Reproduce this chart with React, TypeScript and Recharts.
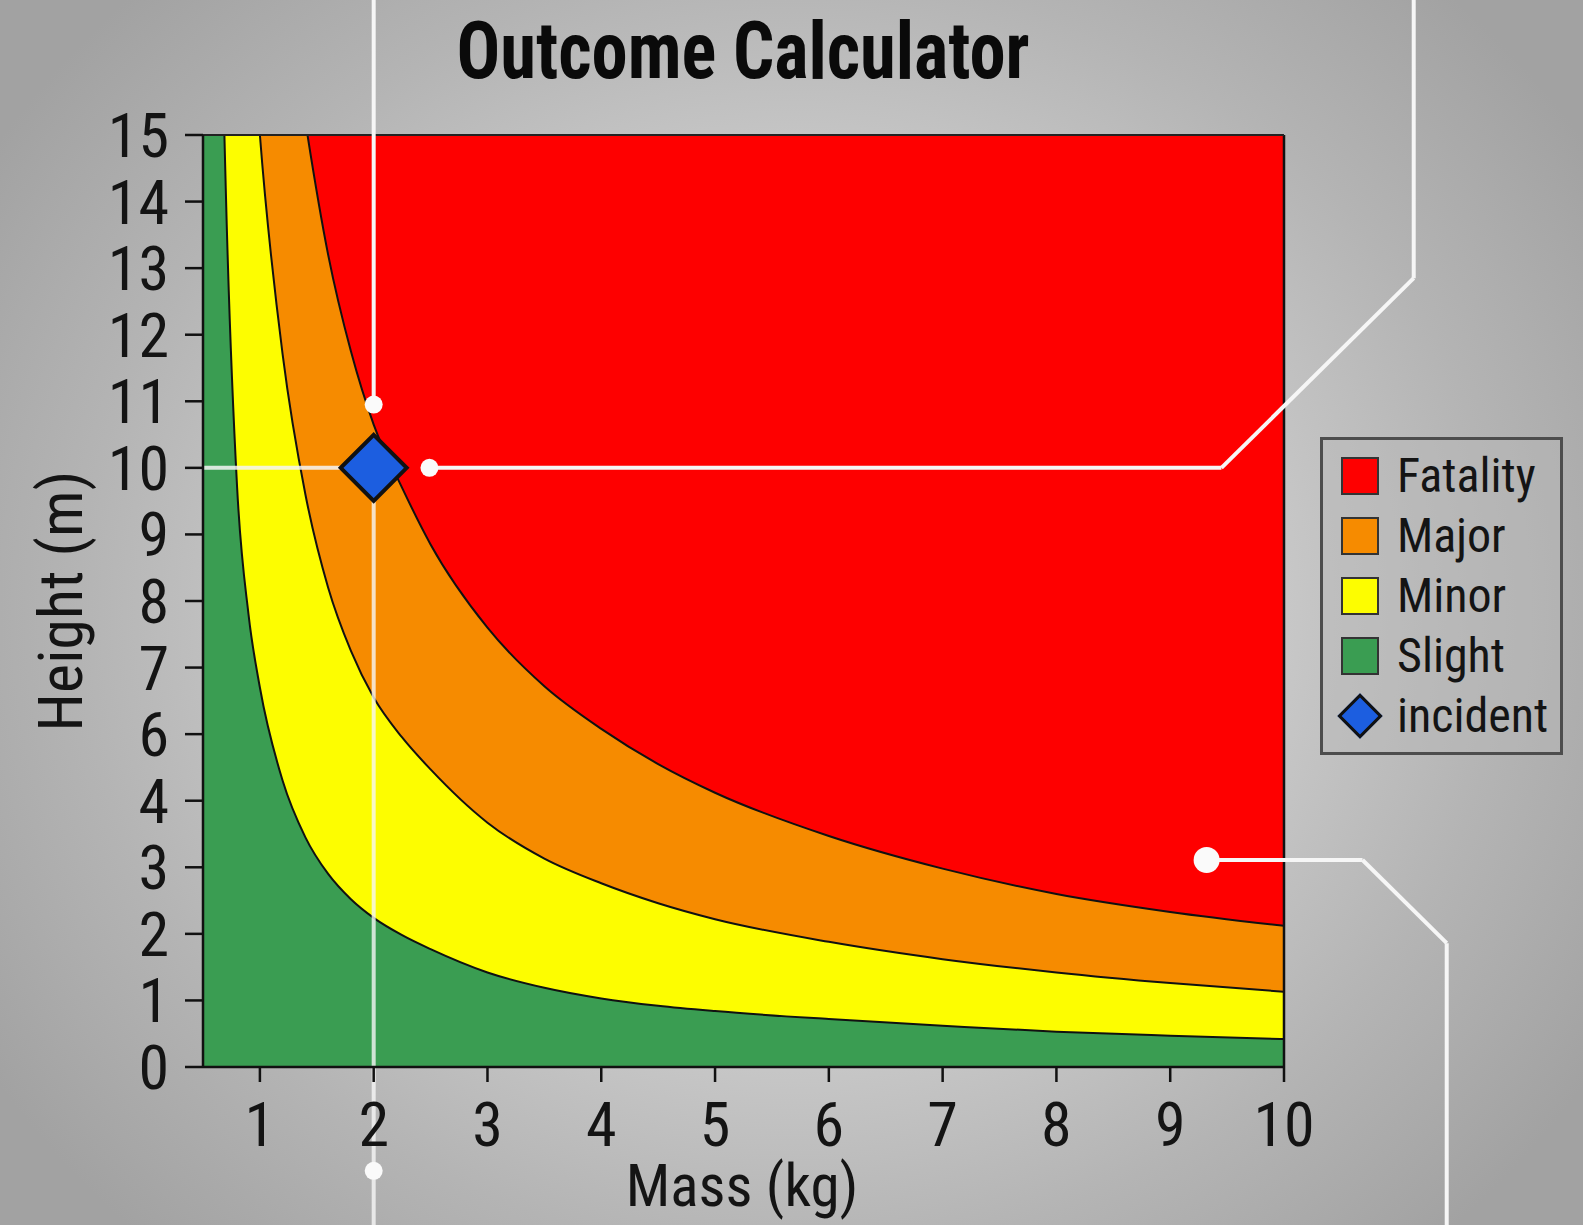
import React from 'react';
import {
  ComposedChart,
  Area,
  Scatter,
  XAxis,
  YAxis,
  CartesianGrid,
  ReferenceLine,
  ReferenceDot,
  Legend,
} from 'recharts';

// ---------- data (heights in axis-position units; the axis labels skip "5") ----------
const massKg = [0.5, 0.6, 0.7, 0.8, 0.9, 1.0, 1.2, 1.4, 1.6, 1.8, 2.0, 2.25, 2.5, 3.0, 3.5, 4.0, 4.5, 5.0, 6, 7, 8, 9, 10];
const fatalityLimit = [40, 33, 28.5, 25, 22, 20, 16.6, 14.2, 12.2, 10.75, 9.65, 8.7, 7.85, 6.6, 5.72, 5.08, 4.55, 4.12, 3.47, 2.98, 2.6, 2.33, 2.12];
const majorLimit = [40, 32, 25, 20, 16.5, 14, 10.7, 8.6, 7.2, 6.25, 5.55, 4.95, 4.47, 3.67, 3.13, 2.76, 2.46, 2.22, 1.88, 1.62, 1.42, 1.26, 1.13];
const minorLimit = [40, 22, 13.2, 8.7, 6.8, 5.7, 4.3, 3.45, 2.9, 2.52, 2.24, 1.98, 1.77, 1.42, 1.19, 1.03, 0.92, 0.84, 0.72, 0.62, 0.53, 0.47, 0.42];

const incident = [{ mass: 2, height: 9 }];

const xTicks = [1, 2, 3, 4, 5, 6, 7, 8, 9, 10];
const yTickPositions = [0, 1, 2, 3, 4, 5, 6, 7, 8, 9, 10, 11, 12, 13, 14];
const yTickLabels = ['0', '1', '2', '3', '4', '6', '7', '8', '9', '10', '11', '12', '13', '14', '15'];

const legendNames = ['Fatality', 'Major', 'Minor', 'Slight', 'incident'];
const legendColors = ['#fe0000', '#f68b00', '#fdfd00', '#3a9d52', '#1c5ee0'];

// callout decoration (data units)
const calloutSegments: { a: [number, number]; b: [number, number]; o: number }[] = [
  { a: [2, 16.3], b: [2, 10], o: 1 },
  { a: [2, 8.5], b: [2, -2.6], o: 0.8 },
  { a: [0.5, 9], b: [1.72, 9], o: 0.85 },
  { a: [2.49, 9], b: [9.45, 9], o: 1 },
  { a: [9.45, 9], b: [11.14, 11.85], o: 1 },
  { a: [11.14, 11.85], b: [11.14, 16.3], o: 1 },
  { a: [9.32, 3.11], b: [10.69, 3.11], o: 1 },
  { a: [10.69, 3.11], b: [11.43, 1.86], o: 1 },
  { a: [11.43, 1.86], b: [11.43, -2.6], o: 1 },
];
const calloutDots: { x: number; y: number; r: number }[] = [
  { x: 2, y: 9.95, r: 9 },
  { x: 2.49, y: 9, r: 9 },
  { x: 2, y: -1.56, r: 9 },
  { x: 9.32, y: 3.11, r: 13 },
];

const rows = massKg.map((m, i) => ({
  mass: m,
  fatality: fatalityLimit[i],
  major: majorLimit[i],
  minor: minorLimit[i],
}));

const NARROW = '"Liberation Sans Narrow", "Arial Narrow", "Roboto Condensed", "DejaVu Sans Condensed", sans-serif';

const DiamondShape = (props: any) => {
  const { cx, cy } = props;
  const r = 33;
  return (
    <polygon
      points={`${cx},${cy - r} ${cx + r},${cy} ${cx},${cy + r} ${cx - r},${cy}`}
      fill="#1c5ee0"
      stroke="#111"
      strokeWidth={4}
    />
  );
};

const LegendBox = () => (
  <div
    style={{
      width: 243,
      height: 318,
      boxSizing: 'border-box',
      border: '3px solid #4d4d4d',
      background: 'rgba(185,185,185,0.45)',
      paddingTop: 6,
      fontFamily: NARROW,
    }}
  >
    {legendNames.map((name, i) => (
      <div key={name} style={{ height: 60, display: 'flex', alignItems: 'center' }}>
        <div style={{ width: 58, display: 'flex', justifyContent: 'center', marginLeft: 8 }}>
          {i < 4 ? (
            <div
              style={{
                width: 34,
                height: 34,
                background: legendColors[i],
                border: '2px solid #333',
              }}
            />
          ) : (
            <div
              style={{
                width: 26,
                height: 26,
                background: legendColors[i],
                border: '3px solid #111',
                transform: 'rotate(45deg)',
              }}
            />
          )}
        </div>
        <span style={{ fontSize: 48, color: '#141414', marginLeft: 8, lineHeight: '60px' }}>{name}</span>
      </div>
    ))}
  </div>
);

export default function App() {
  const tickStyle = { fill: '#141414', fontSize: 62, fontFamily: NARROW };
  return (
    <div
      style={{
        position: 'absolute',
        left: 0,
        top: 0,
        width: 1583,
        height: 1225,
        overflow: 'hidden',
        background:
          'radial-gradient(ellipse 60% 70% at 50% 50%, #dedede 0%, #cdcdcd 45%, #b4b4b4 75%, #a2a2a2 100%)',
      }}
    >
      <ComposedChart
        width={1583}
        height={1225}
        data={rows}
        margin={{ top: 135, right: 299, bottom: 0, left: 0 }}
      >
        <CartesianGrid horizontal={false} vertical={false} fill="#fe0000" />
        <XAxis
          type="number"
          dataKey="mass"
          domain={[0.5, 10]}
          ticks={xTicks}
          interval={0}
          allowDataOverflow
          height={158}
          tickSize={15}
          tickMargin={20}
          axisLine={{ stroke: '#111', strokeWidth: 2.5 }}
          tickLine={{ stroke: '#111', strokeWidth: 2.5 }}
          tick={tickStyle}
        />
        <YAxis
          type="number"
          domain={[0, 14]}
          ticks={yTickPositions}
          interval={0}
          allowDataOverflow
          width={203}
          tickSize={18}
          tickMargin={16}
          tickFormatter={(v: number) => yTickLabels[v]}
          axisLine={{ stroke: '#111', strokeWidth: 2.5 }}
          tickLine={{ stroke: '#111', strokeWidth: 2.5 }}
          tick={tickStyle}
        />
        <Area
          type="monotone"
          dataKey="fatality"
          name="Major"
          fill="#f68b00"
          fillOpacity={1}
          stroke="#111"
          strokeWidth={2}
          isAnimationActive={false}
          dot={false}
          activeDot={false}
        />
        <Area
          type="monotone"
          dataKey="major"
          name="Minor"
          fill="#fdfd00"
          fillOpacity={1}
          stroke="#111"
          strokeWidth={2}
          isAnimationActive={false}
          dot={false}
          activeDot={false}
        />
        <Area
          type="monotone"
          dataKey="minor"
          name="Slight"
          fill="#3a9d52"
          fillOpacity={1}
          stroke="#111"
          strokeWidth={2}
          isAnimationActive={false}
          dot={false}
          activeDot={false}
        />
        <ReferenceLine x={10} stroke="#111" strokeWidth={2.5} />
        <ReferenceLine y={14} stroke="#222" strokeWidth={2} />
        {calloutSegments.map((s, i) => (
          <ReferenceLine
            key={'seg' + i}
            segment={[
              { x: s.a[0], y: s.a[1] },
              { x: s.b[0], y: s.b[1] },
            ]}
            ifOverflow="visible"
            stroke="#f6f6f6"
            strokeOpacity={s.o}
            strokeWidth={4}
          />
        ))}
        {calloutDots.map((d, i) => (
          <ReferenceDot
            key={'dot' + i}
            x={d.x}
            y={d.y}
            r={d.r}
            ifOverflow="visible"
            fill="#fafafa"
            stroke="none"
          />
        ))}
        <Scatter
          data={incident}
          dataKey="height"
          name="incident"
          shape={DiamondShape}
          isAnimationActive={false}
        />
        <Legend
          layout="vertical"
          align="center"
          verticalAlign="middle"
          content={() => <LegendBox />}
          wrapperStyle={{ left: 1320, top: 437, width: 243, height: 318 }}
        />
        <text
          x={743}
          y={78}
          textAnchor="middle"
          fontSize={80}
          fontWeight="bold"
          fontFamily={NARROW}
          fill="#0a0a0a"
          textLength={573}
          lengthAdjust="spacingAndGlyphs"
        >
          Outcome Calculator
        </text>
        <text x={742} y={1206} textAnchor="middle" fontSize={59} fontFamily={NARROW} fill="#141414">
          Mass (kg)
        </text>
        <text
          x={82}
          y={601}
          textAnchor="middle"
          fontSize={62}
          fontFamily={NARROW}
          fill="#141414"
          transform="rotate(-90 82 601)"
        >
          Height (m)
        </text>
      </ComposedChart>
    </div>
  );
}
